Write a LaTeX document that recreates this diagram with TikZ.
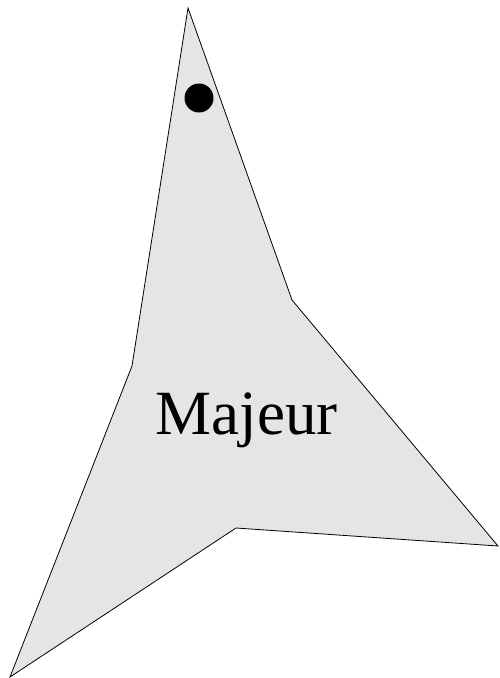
\documentclass[tikz,border=0pt]{standalone}
\usepackage{fontspec}
\setmainfont{Liberation Serif}
\usetikzlibrary{positioning}
\tikzset{
  fingershape/.style={fill=gray!20,draw=black,line width=0.8pt,line join=miter},
  tipdot/.style={fill=black,draw=none},
  fingerlabel/.style={font=\fontsize{63}{63}\selectfont,inner sep=0pt,anchor=base}
}

\begin{document}
\begin{tikzpicture}[x=1pt,y=-1pt]

  % Frame
  \useasboundingbox (0,0) rectangle (499,678);

  % Finger outline
  \draw[fingershape]
    (188,8) -- (292,300) -- (498,546) -- (236,528) -- (10,677) -- (132,366) -- cycle;

  % Tip dot
  \fill[tipdot] (199,98) circle (14.5);

  % Label
  \node[fingerlabel] (majeur) at (246.5,434) {Majeur};

\end{tikzpicture}
\end{document}
